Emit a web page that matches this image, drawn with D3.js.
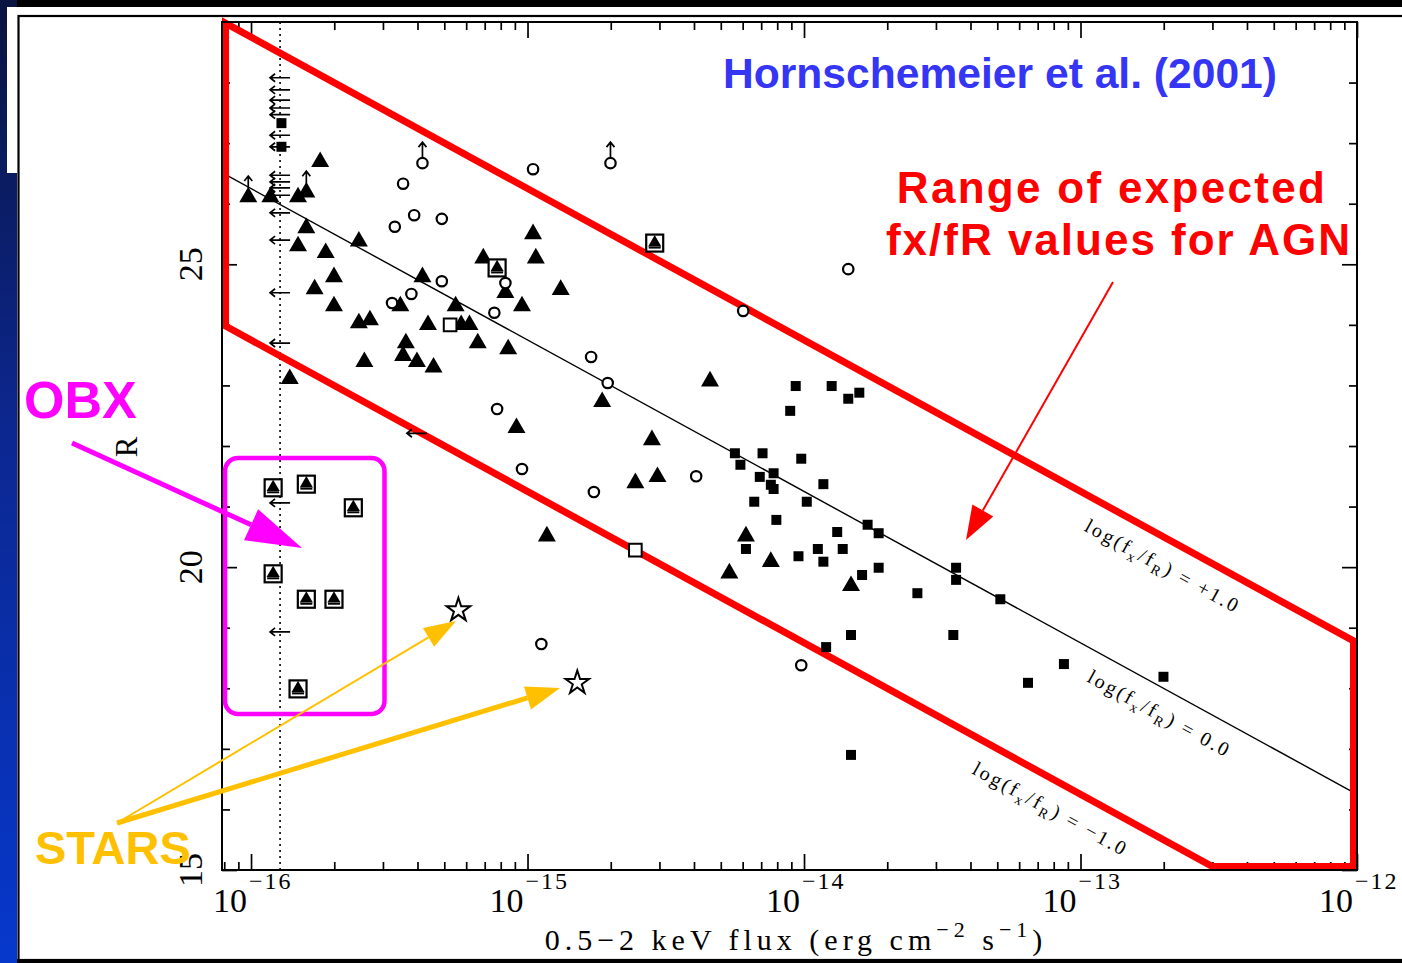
<!DOCTYPE html>
<html><head><meta charset="utf-8">
<script src="https://cdn.jsdelivr.net/npm/d3@7"></script>
<style>html,body{margin:0;padding:0;background:#000;overflow:hidden}</style>
</head><body>
<svg id="c" width="1402" height="963"></svg>
<script>
// ---------------- DATA (log10 flux [erg cm^-2 s^-1], R magnitude) ----------------
const fluxDomainLog = [-16.105, -12];
const rDomain = [15, 29];
const xMajorTicks = [1e-16, 1e-15, 1e-14, 1e-13, 1e-12];
const xMajorExp = ["\u221216", "\u221215", "\u221214", "\u221213", "\u221212"];
const yMajorTicks = [15, 20, 25];
const yMinorTicks = [16, 17, 18, 19, 21, 22, 23, 24, 26, 27, 28];
const ratioLines = [1, 0, -1];
const ratioLabels = ["+1.0", "0.0", "\u22121.0"];
const ratioZeroPoint = 5.5;
const fluxLimitLog = -15.895;

const triangles = [[-15.75,26.69],[-16.01,26.11],[-15.93,26.11],[-15.83,26.11],[-15.80,26.19],[-15.80,25.60],[-15.61,25.38],[-15.83,25.30],[-15.73,25.19],[-14.98,25.50],[-15.16,25.10],[-14.97,25.10],[-15.08,24.53],[-15.70,24.79],[-15.77,24.59],[-15.38,24.79],[-14.88,24.58],[-15.46,24.31],[-15.70,24.31],[-15.02,24.31],[-15.26,24.31],[-15.61,24.03],[-15.57,24.08],[-15.36,24.00],[-15.24,24.00],[-15.21,24.00],[-15.18,23.70],[-15.44,23.70],[-15.07,23.60],[-15.45,23.49],[-15.40,23.39],[-15.34,23.30],[-15.59,23.39],[-15.86,23.11],[-14.73,22.73],[-14.34,23.07],[-15.04,22.30],[-14.55,22.10],[-14.61,21.39],[-14.53,21.49],[-14.93,20.51],[-14.27,19.90],[-14.12,20.09],[-14.21,20.51],[-13.83,19.69]];
const triangleLowerLimits = [[-16.01,26.11],[-15.80,26.19]];
const circles = [[-15.45,26.33],[-15.41,25.81],[-15.31,25.75],[-15.48,25.62],[-14.98,26.57],[-15.08,24.69],[-15.31,24.72],[-15.42,24.51],[-15.49,24.36],[-15.12,24.20],[-14.77,23.47],[-14.71,23.04],[-15.11,22.61],[-15.02,21.62],[-14.76,21.24],[-14.39,21.50],[-14.22,24.23],[-13.84,24.92],[-14.95,18.73],[-14.01,18.38]];
const circleLowerLimits = [[-15.38,26.67],[-14.70,26.67]];
const squares = [[-14.03,22.99],[-13.90,22.99],[-13.80,22.88],[-13.84,22.78],[-14.05,22.58],[-14.25,21.88],[-14.15,21.88],[-14.01,21.79],[-14.23,21.69],[-14.16,21.49],[-14.11,21.55],[-14.12,21.36],[-14.11,21.29],[-13.93,21.37],[-14.18,21.08],[-13.99,21.08],[-14.10,20.78],[-13.77,20.70],[-13.73,20.56],[-13.88,20.58],[-14.21,20.30],[-13.95,20.30],[-13.86,20.30],[-14.02,20.18],[-13.93,20.09],[-13.73,19.99],[-13.79,19.87],[-13.59,19.57],[-13.45,19.99],[-13.45,19.79],[-13.29,19.47],[-13.83,18.88],[-13.46,18.88],[-13.92,18.68],[-13.06,18.40],[-13.19,18.09],[-12.70,18.19],[-13.83,16.90],[-15.89,27.33],[-15.89,26.94]];
const boxedTriangles = [[-15.11,24.94],[-14.54,25.35],[-15.92,21.31],[-15.80,21.37],[-15.63,20.98],[-15.92,19.89],[-15.80,19.47],[-15.70,19.47],[-15.83,17.99]];
const openSquares = [[-15.28,24.00],[-14.61,20.28]];
const stars = [[-15.25,19.29],[-14.82,18.09]];
const upperLimitR = [28.08,27.88,27.71,27.58,27.47,27.13,26.94,26.47,26.36,26.26,26.14,25.85,25.40,24.53,23.70,21.06,18.93];
const otherUpperLimits = [[-15.40,22.21]];

// ---------------- LAYOUT ----------------
const svg = d3.select("#c");
const L = 222, Rt = 1357, T = 22, B = 870;
const x = d3.scaleLog().domain(fluxDomainLog.map(v => Math.pow(10, v))).range([L, Rt]);
const y = d3.scaleLinear().domain(rDomain).range([B, T]);
const px = lf => x(Math.pow(10, lf));
const ratioR = (k, lf) => 2.5 * (k - ratioZeroPoint - lf);

// background
const defs = svg.append("defs");
const gr = defs.append("linearGradient").attr("id","lg").attr("x1",0).attr("y1",0).attr("x2",0).attr("y2",1);
gr.append("stop").attr("offset","0%").attr("stop-color","#0a1440");
gr.append("stop").attr("offset","45%").attr("stop-color","#0c2790");
gr.append("stop").attr("offset","100%").attr("stop-color","#0638cc");
svg.append("rect").attr("width",1402).attr("height",963).attr("fill","#000");
svg.append("rect").attr("x",0).attr("y",0).attr("width",17).attr("height",963).attr("fill","url(#lg)");
svg.append("rect").attr("x",7).attr("y",7).attr("width",1400).attr("height",166).attr("fill","#fff");
svg.append("rect").attr("x",17).attr("y",7).attr("width",1400).attr("height",952).attr("fill","#fff");
svg.append("rect").attr("x",18.5).attr("y",16).attr("width",1400).attr("height",944)
  .attr("fill","none").attr("stroke","#000").attr("stroke-width",2.2);

const plot = svg.append("g");

// axes ticks (all four sides, inward)
function styleAxis(g){ g.select(".domain").remove(); g.selectAll(".tick line").attr("stroke","#000").attr("stroke-width",1.7); g.selectAll(".tick text").remove(); }
const xMinor = [];
for (let e = -17; e <= -13; e++) for (let k = 2; k <= 9; k++) { const v = k * Math.pow(10, e); if (v >= x.domain()[0] && v <= x.domain()[1]) xMinor.push(v); }
plot.append("g").attr("transform",`translate(0,${B})`).call(d3.axisBottom(x).tickValues(xMajorTicks).tickSize(-16)).call(styleAxis);
plot.append("g").attr("transform",`translate(0,${B})`).call(d3.axisBottom(x).tickValues(xMinor).tickSize(-8)).call(styleAxis);
plot.append("g").attr("transform",`translate(0,${T})`).call(d3.axisTop(x).tickValues(xMajorTicks).tickSize(-16)).call(styleAxis);
plot.append("g").attr("transform",`translate(0,${T})`).call(d3.axisTop(x).tickValues(xMinor).tickSize(-8)).call(styleAxis);
plot.append("g").attr("transform",`translate(${L},0)`).call(d3.axisLeft(y).tickValues(yMajorTicks).tickSize(-15)).call(styleAxis);
plot.append("g").attr("transform",`translate(${L},0)`).call(d3.axisLeft(y).tickValues(yMinorTicks).tickSize(-8)).call(styleAxis);
plot.append("g").attr("transform",`translate(${Rt},0)`).call(d3.axisRight(y).tickValues(yMajorTicks).tickSize(-15)).call(styleAxis);
plot.append("g").attr("transform",`translate(${Rt},0)`).call(d3.axisRight(y).tickValues(yMinorTicks).tickSize(-8)).call(styleAxis);

// tick labels
const serif = "'Liberation Serif', 'DejaVu Serif', serif";
xMajorTicks.forEach((v,i) => {
  const tx = x(v);
  plot.append("text").attr("x", tx - 4).attr("y", 912).attr("text-anchor","end")
    .attr("font-family", serif).attr("font-size", 34).attr("fill","#000").text("10");
  plot.append("text").attr("x", tx - 2).attr("y", 889).attr("text-anchor","start")
    .attr("font-family", serif).attr("font-size", 24).attr("letter-spacing", 2).attr("fill","#000").text(xMajorExp[i]);
});
yMajorTicks.forEach(v => {
  plot.append("text").attr("transform",`translate(${L-20},${y(v)}) rotate(-90)`)
    .attr("text-anchor","middle").attr("font-family", serif).attr("font-size", 34).attr("fill","#000").text(v);
});
// axis titles
plot.append("text").attr("transform",`translate(137,447) rotate(-90)`).attr("text-anchor","middle")
  .attr("font-family", serif).attr("font-size", 31).attr("fill","#000").text("R");
const xt = plot.append("text").attr("x", 796).attr("y", 950).attr("text-anchor","middle")
  .attr("font-family", serif).attr("font-size", 30).attr("letter-spacing", 5).attr("fill","#000");
xt.append("tspan").text("0.5\u22122 keV flux (erg cm");
xt.append("tspan").attr("dy",-13).attr("font-size",22).text("\u22122");
xt.append("tspan").attr("dy",13).text(" s");
xt.append("tspan").attr("dy",-13).attr("font-size",22).text("\u22121");
xt.append("tspan").attr("dy",13).text(")");

// dotted flux-limit line
plot.append("line").attr("x1", px(fluxLimitLog)).attr("x2", px(fluxLimitLog)).attr("y1", T).attr("y2", B)
  .attr("stroke","#000").attr("stroke-width",1.6).attr("stroke-dasharray","2,4");

// zero ratio line
const lfMin = fluxDomainLog[0], lfMax = fluxDomainLog[1];
plot.append("path").attr("d", d3.line()([[px(lfMin), y(ratioR(0,lfMin))],[px(lfMax), y(ratioR(0,lfMax))]]))
  .attr("stroke","#000").attr("stroke-width",1.4).attr("fill","none");

// red AGN band (inset by half the stroke so it sits inside the frame)
const ins = 3.5;
const lfL = Math.log10(x.invert(L + ins)), lfR = Math.log10(x.invert(Rt - ins));
const rBot = y.invert(B - ins);
const lfBot = -1 - ratioZeroPoint - rBot / 2.5;
const band = [
  [px(lfL), y(ratioR(1, lfL))],
  [px(lfL), y(ratioR(-1, lfL))],
  [px(lfBot), B - ins],
  [px(lfR), B - ins],
  [px(lfR), y(ratioR(1, lfR))]
];
plot.append("path").attr("d", d3.line()(band) + "Z").attr("fill","none")
  .attr("stroke","#ff0000").attr("stroke-width",7).attr("stroke-linejoin","miter");

// frame
plot.append("rect").attr("x",L).attr("y",T).attr("width",Rt-L).attr("height",B-T)
  .attr("fill","none").attr("stroke","#000").attr("stroke-width",2);

// ratio line labels
const ang = Math.atan2(y(ratioR(0,-13)) - y(ratioR(0,-14)), px(-13) - px(-14)) * 180 / Math.PI;
const labelPos = [[-12.99, 20.61], [-12.98, 18.12], [-13.396, 16.60]];
ratioLabels.forEach((lab, i) => {
  const t = plot.append("text").attr("transform",`translate(${px(labelPos[i][0])},${y(labelPos[i][1])}) rotate(${ang})`)
    .attr("font-family", serif).attr("font-size", 20).attr("letter-spacing", 2.5).attr("fill","#000");
  t.append("tspan").text("log(f");
  t.append("tspan").attr("dy",5).attr("font-size",14).text("x");
  t.append("tspan").attr("dy",-5).text("/f");
  t.append("tspan").attr("dy",5).attr("font-size",14).text("R");
  t.append("tspan").attr("dy",-5).text(")  =  " + lab);
});

// ---------------- MARKERS ----------------
const pts = plot.append("g");
const tr = d => `translate(${px(d[0])},${y(d[1])})`;
function upArrow(g, d, gap, len){
  const cx = px(d[0]), cy = y(d[1]);
  g.append("path").attr("d", `M${cx},${cy-gap}V${cy-gap-len}M${cx-4},${cy-gap-len+5}L${cx},${cy-gap-len}L${cx+4},${cy-gap-len+5}`)
    .attr("stroke","#000").attr("stroke-width",1.7).attr("fill","none");
}
function leftArrow(g, cx, cy){
  g.append("path").attr("d", `M${cx+10},${cy}H${cx-10}M${cx-5},${cy-4}L${cx-10},${cy}L${cx-5},${cy+4}`)
    .attr("stroke","#000").attr("stroke-width",1.7).attr("fill","none");
}
upperLimitR.forEach(r => leftArrow(pts, px(fluxLimitLog), y(r)));
otherUpperLimits.forEach(d => leftArrow(pts, px(d[0]), y(d[1])));

pts.selectAll(".tri").data(triangles).join("path").attr("transform", tr)
  .attr("d", d3.symbol(d3.symbolTriangle, 140)).attr("fill","#000");
triangleLowerLimits.forEach(d => upArrow(pts, d, 9, 12));
pts.selectAll(".sq").data(squares).join("path").attr("transform", tr)
  .attr("d", d3.symbol(d3.symbolSquare, 100)).attr("fill","#000");
pts.selectAll(".ci").data(circles.concat(circleLowerLimits)).join("path").attr("transform", tr)
  .attr("d", d3.symbol(d3.symbolCircle, 85)).attr("fill","#fff").attr("stroke","#000").attr("stroke-width",2.2);
circleLowerLimits.forEach(d => upArrow(pts, d, 6, 15));
pts.selectAll(".os").data(openSquares).join("path").attr("transform", tr)
  .attr("d", d3.symbol(d3.symbolSquare, 160)).attr("fill","#fff").attr("stroke","#000").attr("stroke-width",2);
const bt = pts.selectAll(".bt").data(boxedTriangles).join("g").attr("transform", tr);
bt.append("rect").attr("x",-8.5).attr("y",-8.5).attr("width",17).attr("height",17)
  .attr("fill","#fff").attr("stroke","#000").attr("stroke-width",2.2);
bt.append("path").attr("d", d3.symbol(d3.symbolTriangle, 75)).attr("transform","translate(0,-0.5)").attr("fill","#000");
bt.append("line").attr("x1",-6).attr("x2",6).attr("y1",4.5).attr("y2",4.5).attr("stroke","#000").attr("stroke-width",2);
pts.selectAll(".st").data(stars).join("path").attr("transform", tr)
  .attr("d", d3.symbol(d3.symbolStar, 170)).attr("fill","#fff").attr("stroke","#000").attr("stroke-width",2);

// ---------------- ANNOTATIONS ----------------
const sans = "'Liberation Sans', Arial, sans-serif";
svg.append("text").attr("x", 723).attr("y", 88).attr("font-family", sans).attr("font-weight","bold")
  .attr("font-size", 42.6).attr("fill","#3535f5").text("Hornschemeier et al. (2001)");
svg.append("text").attr("x", 1112).attr("y", 203).attr("text-anchor","middle").attr("font-family", sans)
  .attr("font-weight","bold").attr("font-size", 44).attr("letter-spacing", 2.3).attr("fill","#ff0000").text("Range of expected");
svg.append("text").attr("x", 1119).attr("y", 255).attr("text-anchor","middle").attr("font-family", sans)
  .attr("font-weight","bold").attr("font-size", 44).attr("letter-spacing", 2).attr("fill","#ff0000").text("fx/fR values for AGN");

function arrow(x1,y1,x2,y2,color,w,hl,hw){
  const a = Math.atan2(y2-y1, x2-x1), c = Math.cos(a), s = Math.sin(a);
  const bx = x2 - hl*c, by = y2 - hl*s;
  svg.append("line").attr("x1",x1).attr("y1",y1).attr("x2",bx).attr("y2",by).attr("stroke",color).attr("stroke-width",w);
  svg.append("path").attr("d",`M${x2},${y2}L${bx - hw*s},${by + hw*c}L${bx + hw*s},${by - hw*c}Z`).attr("fill",color);
}
arrow(1113, 282, 966, 540, "#ff0000", 2, 34, 12);

// OBX
svg.append("rect").attr("x", 225).attr("y", 458).attr("width", 159.5).attr("height", 256).attr("rx", 13)
  .attr("fill","none").attr("stroke","#ff00ff").attr("stroke-width",4.5);
svg.append("text").attr("x", 24).attr("y", 418).attr("font-family", sans).attr("font-weight","bold")
  .attr("font-size", 52).attr("fill","#ff00ff").text("OBX");
arrow(72, 443, 302, 548, "#ff00ff", 5, 56, 17);

// STARS
arrow(117, 823, 456, 621, "#ffc000", 2, 32, 11);
arrow(117, 823, 560, 688, "#ffc000", 5, 34, 12);
svg.append("text").attr("x", 35).attr("y", 864).attr("font-family", sans).attr("font-weight","bold")
  .attr("font-size", 47).attr("fill","#ffc000").text("STARS");
</script>
</body></html>
